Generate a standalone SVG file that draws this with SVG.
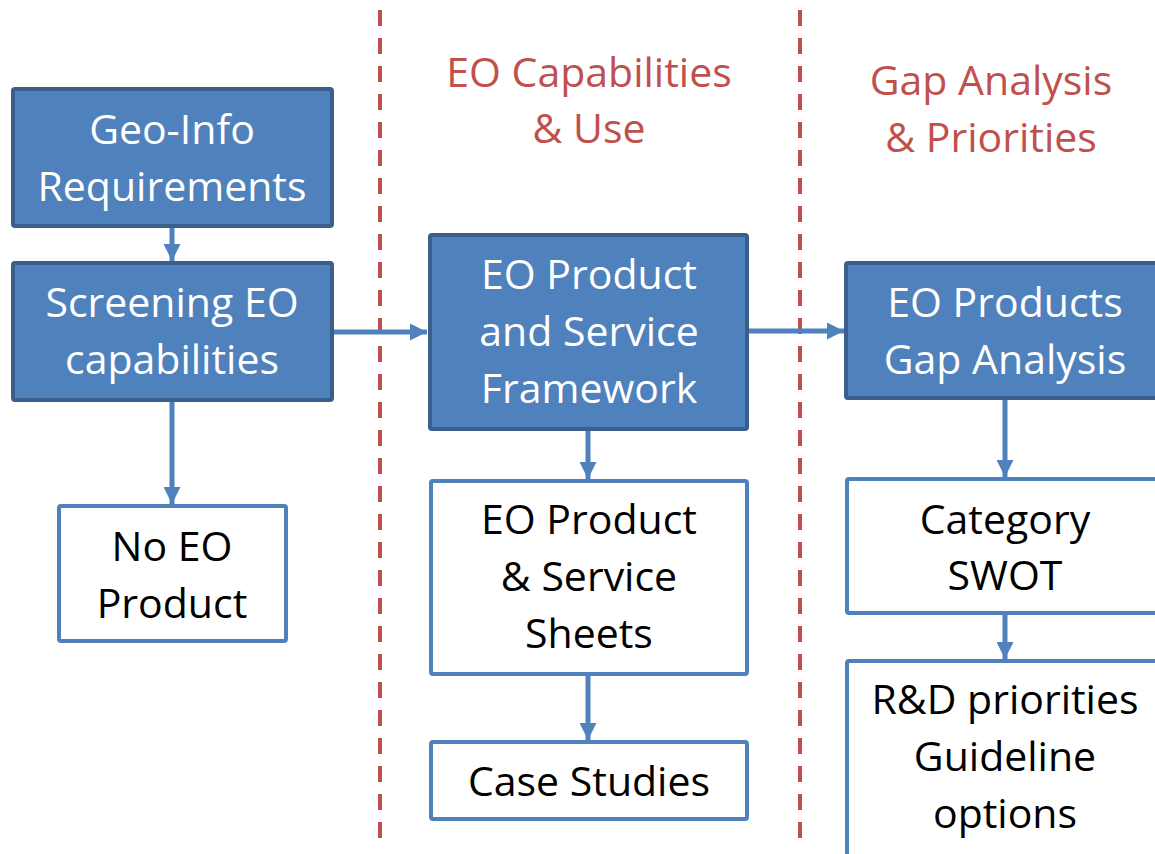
<svg xmlns="http://www.w3.org/2000/svg" width="1155" height="854" viewBox="0 0 1155 854">
<defs>
<style>
.dark{fill:#4f81bd;stroke:#3a5f8c;stroke-width:4}
.light{fill:#ffffff;stroke:#4f81bd;stroke-width:4}
text{font-family:"Open Sans","Noto Sans",sans-serif;font-size:41px;text-anchor:middle}
.w{fill:#ffffff}
.k{fill:#000000}
.hd{fill:#c0504d}
.conn{stroke:#4f81bd;stroke-width:5;fill:none}
.sep{stroke:#c0504d;stroke-width:4;stroke-dasharray:16 12;fill:none}
</style>
<marker id="ah" markerWidth="17" markerHeight="17" refX="17" refY="8.5" orient="auto" markerUnits="userSpaceOnUse">
<path d="M0,0 L17,8.5 L0,17 z" fill="#4f81bd"/>
</marker>
</defs>
<rect width="1155" height="854" fill="#ffffff"/>
<g id="separators">
<line class="sep" x1="380" y1="10" x2="380" y2="840"/>
<line class="sep" x1="800" y1="10" x2="800" y2="840"/>
</g>
<g id="headers">
<text class="hd" x="589" y="87">EO Capabilities</text>
<text class="hd" x="589" y="143">&amp; Use</text>
<text class="hd" x="991" y="95">Gap Analysis</text>
<text class="hd" x="991" y="152">&amp; Priorities</text>
</g>
<g id="connectors">
<line class="conn" x1="172" y1="226" x2="172" y2="261" marker-end="url(#ah)"/>
<line class="conn" x1="333" y1="332" x2="427" y2="332" marker-end="url(#ah)"/>
<line class="conn" x1="172" y1="400" x2="172" y2="504" marker-end="url(#ah)"/>
<line class="conn" x1="748" y1="331" x2="844" y2="331" marker-end="url(#ah)"/>
<line class="conn" x1="588" y1="430" x2="588" y2="479" marker-end="url(#ah)"/>
<line class="conn" x1="588" y1="675" x2="588" y2="740" marker-end="url(#ah)"/>
<line class="conn" x1="1005" y1="399" x2="1005" y2="477" marker-end="url(#ah)"/>
<line class="conn" x1="1005" y1="614" x2="1005" y2="659" marker-end="url(#ah)"/>
</g>
<g id="geo-info">
<rect class="dark" x="13" y="89" width="319" height="137" rx="2"/>
<text class="w" x="172" y="144">Geo-Info</text>
<text class="w" x="172" y="201">Requirements</text>
</g>
<g id="screening">
<rect class="dark" x="13" y="263" width="319" height="137" rx="2"/>
<text class="w" x="172" y="317">Screening EO</text>
<text class="w" x="172" y="374">capabilities</text>
</g>
<g id="no-eo-product">
<rect class="light" x="59" y="506" width="227" height="135" rx="2"/>
<text class="k" x="172" y="561">No EO</text>
<text class="k" x="172" y="618">Product</text>
</g>
<g id="framework">
<rect class="dark" x="430" y="235" width="317" height="194" rx="2"/>
<text class="w" x="589" y="289">EO Product</text>
<text class="w" x="589" y="346">and Service</text>
<text class="w" x="589" y="403">Framework</text>
</g>
<g id="sheets">
<rect class="light" x="431" y="481" width="316" height="193" rx="2"/>
<text class="k" x="589" y="534">EO Product</text>
<text class="k" x="589" y="591">&amp; Service</text>
<text class="k" x="589" y="648">Sheets</text>
</g>
<g id="case-studies">
<rect class="light" x="431" y="742" width="316" height="77" rx="2"/>
<text class="k" x="589" y="796">Case Studies</text>
</g>
<g id="gap-analysis">
<rect class="dark" x="846" y="263" width="320" height="135" rx="2"/>
<text class="w" x="1005" y="317">EO Products</text>
<text class="w" x="1005" y="374">Gap Analysis</text>
</g>
<g id="swot">
<rect class="light" x="847" y="479" width="320" height="134" rx="2"/>
<text class="k" x="1005" y="534">Category</text>
<text class="k" x="1005" y="590">SWOT</text>
</g>
<g id="rd-priorities">
<rect class="light" x="847" y="661" width="320" height="210" rx="2"/>
<text class="k" x="1005" y="714">R&amp;D priorities</text>
<text class="k" x="1005" y="771">Guideline</text>
<text class="k" x="1005" y="828">options</text>
</g>
</svg>
